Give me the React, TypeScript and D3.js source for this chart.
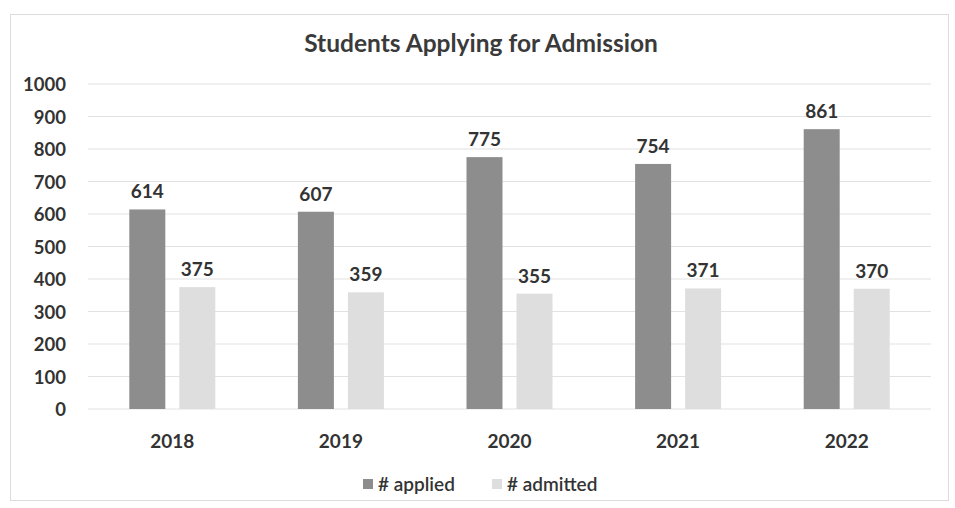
import React from "react";
import * as d3 from "d3";

const years = ["2018", "2019", "2020", "2021", "2022"];
const applied = [614, 607, 775, 754, 861];
const admitted = [375, 359, 355, 371, 370];
const seriesNames = ["# applied", "# admitted"];
const yTicks = [0, 100, 200, 300, 400, 500, 600, 700, 800, 900, 1000];

const W = 955;
const H = 508;
const font = "Lato, Carlito, 'Open Sans', sans-serif";
const colors = ["#8d8d8d", "#dedede"];

export default function App() {
  const x = d3.scaleBand<string>().domain(years).range([88, 931]).padding(0);
  const y = d3.scaleLinear().domain([0, 1000]).range([409, 84]);
  const inner = d3
    .scaleBand<string>()
    .domain(seriesNames)
    .range([x.bandwidth() / 2 - 43, x.bandwidth() / 2 + 43])
    .paddingInner(0.28);
  const series = [applied, admitted];

  return (
    <svg width={W} height={H} style={{ position: "absolute", left: 0, top: 0 }}>
      <rect x={0} y={0} width={W} height={H} fill="#fff" />
      <rect x={10.5} y={14.5} width={938} height={486} fill="#fff" stroke="#dcdcdc" strokeWidth={1} />
      <text x={481} y={52} textAnchor="middle" fontFamily={font} fontWeight="bold" fontSize={24.5} fill="#3a3a3a">
        Students Applying for Admission
      </text>
      {yTicks.map((t) => (
        <g key={t}>
          <line x1={88} x2={931} y1={y(t)} y2={y(t)} stroke="#e2e2e2" strokeWidth={1.2} />
          <text x={66} y={y(t) + 7} textAnchor="end" fontFamily={font} fontWeight="bold" fontSize={18.5} fill="#333">
            {t}
          </text>
        </g>
      ))}
      {years.map((yr, i) => (
        <g key={yr} transform={`translate(${x(yr)},0)`}>
          {series.map((s, j) => {
            const bx = inner(seriesNames[j])!;
            const bw = inner.bandwidth();
            return (
              <g key={j}>
                <rect x={bx} y={y(s[i])} width={bw} height={y(0) - y(s[i])} fill={colors[j]} />
                <text x={bx + bw / 2} y={y(s[i]) - 11} textAnchor="middle" fontFamily={font} fontWeight="bold" fontSize={19} fill="#333">
                  {s[i]}
                </text>
              </g>
            );
          })}
          <text x={x.bandwidth() / 2} y={448} textAnchor="middle" fontFamily={font} fontWeight="bold" fontSize={19} fill="#333">
            {yr}
          </text>
        </g>
      ))}
      {seriesNames.map((n, j) => {
        const lx = j === 0 ? 363 : 492;
        return (
          <g key={n}>
            <rect x={lx} y={479} width={10} height={10} fill={colors[j]} />
            <text x={lx + 15} y={491} fontFamily={font} fontSize={19} fill="#333" fontWeight={600}>
              {n}
            </text>
          </g>
        );
      })}
    </svg>
  );
}
